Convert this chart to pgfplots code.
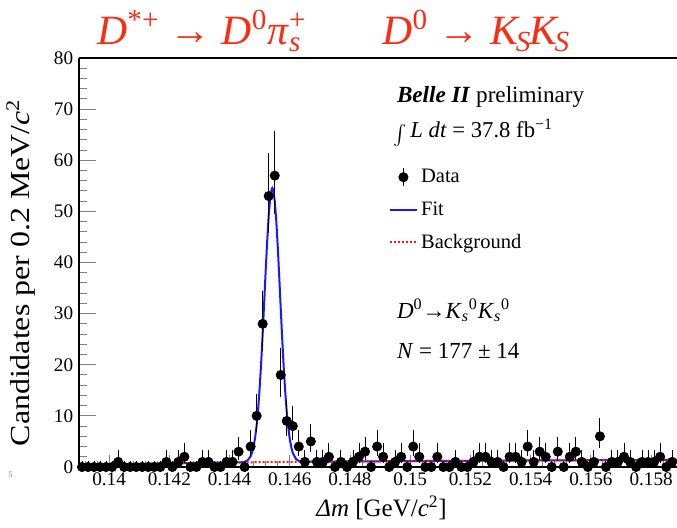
\documentclass[border=0pt]{standalone}
\usepackage{pgfplots}
\pgfplotsset{compat=1.18}
\usepackage{pgfplotstable}
\usepackage{fontspec}
\setmainfont{Liberation Serif}

\definecolor{titlered}{RGB}{250,45,20}
\definecolor{fitblue}{RGB}{25,25,255}
\definecolor{bkgred}{RGB}{255,20,20}

% Delta m distribution: bin centre, candidates, Poisson errors (+/-)
\pgfplotstableread{
x      y   ep    em
0.1391 0   1.15  0
0.1393 0   1.15  0
0.1395 0   1.15  0
0.1397 0   1.15  0
0.1399 0   1.15  0
0.1401 0   1.15  0
0.1403 1   2.30  0.83
0.1405 0   1.15  0
0.1407 0   1.15  0
0.1409 0   1.15  0
0.1411 0   1.15  0
0.1413 0   1.15  0
0.1415 0   1.15  0
0.1417 0   1.15  0
0.1419 1   2.30  0.83
0.1421 0   1.15  0
0.1423 1   2.30  0.83
0.1425 2   2.64  1.29
0.1427 0   1.15  0
0.1429 0   1.15  0
0.1431 1   2.30  0.83
0.1433 1   2.30  0.83
0.1435 0   1.15  0
0.1437 0   1.15  0
0.1439 1   2.30  0.83
0.1441 1   2.30  0.83
0.1443 3   2.92  1.63
0.1445 0   1.15  0
0.1447 4   3.16  1.91
0.1449 10  4.26  3.11
0.1451 28  6.35  5.27
0.1453 53  8.36  7.26
0.1455 57  8.63  7.54
0.1457 18  5.30  4.22
0.1459 9   4.11  2.96
0.1461 8   3.94  2.77
0.1463 4   3.16  1.91
0.1465 1   2.30  0.83
0.1467 5   3.38  2.16
0.1469 1   2.30  0.83
0.1471 1   2.30  0.83
0.1473 2   2.64  1.29
0.1475 0   1.15  0
0.1477 1   2.30  0.83
0.1479 0   1.15  0
0.1481 1   2.30  0.83
0.1483 2   2.64  1.29
0.1485 3   2.92  1.63
0.1487 0   1.15  0
0.1489 4   3.16  1.91
0.1491 2   2.64  1.29
0.1493 0   1.15  0
0.1495 1   2.30  0.83
0.1497 2   2.64  1.29
0.1499 0   1.15  0
0.1501 4   3.16  1.91
0.1503 2   2.64  1.29
0.1505 0   1.15  0
0.1507 0   1.15  0
0.1509 2   2.64  1.29
0.1511 0   1.15  0
0.1513 0   1.15  0
0.1515 1   2.30  0.83
0.1517 0   1.15  0
0.1519 0   1.15  0
0.1521 1   2.30  0.83
0.1523 2   2.64  1.29
0.1525 2   2.64  1.29
0.1527 1   2.30  0.83
0.1529 1   2.30  0.83
0.1531 0   1.15  0
0.1533 2   2.64  1.29
0.1535 2   2.64  1.29
0.1537 1   2.30  0.83
0.1539 4   3.16  1.91
0.1541 1   2.30  0.83
0.1543 3   2.92  1.63
0.1545 2   2.64  1.29
0.1547 0   1.15  0
0.1549 3   2.92  1.63
0.1551 0   1.15  0
0.1553 2   2.64  1.29
0.1555 3   2.92  1.63
0.1557 1   2.30  0.83
0.1559 0   1.15  0
0.1561 1   2.30  0.83
0.1563 6   3.58  2.38
0.1565 0   1.15  0
0.1567 1   2.30  0.83
0.1569 1   2.30  0.83
0.1571 2   2.64  1.29
0.1573 1   2.30  0.83
0.1575 0   1.15  0
0.1577 1   2.30  0.83
0.1579 1   2.30  0.83
0.1581 1   2.30  0.83
0.1583 2   2.64  1.29
0.1585 0   1.15  0
0.1587 1   2.30  0.83
0.1589 1   2.30  0.83
}\dmdata

% Total fit (signal + background)
\pgfplotstableread{
x        y
0.13900  0
0.13957  0
0.13960  0.15
0.13980  0.32
0.14000  0.40
0.14050  0.52
0.14100  0.60
0.14200  0.72
0.14300  0.81
0.14400  0.88
0.14430  0.90
0.14440  0.93
0.14450  1.01
0.14460  1.29
0.14470  2.08
0.14475  2.87
0.14480  4.05
0.14485  5.78
0.14490  8.18
0.14495  11.40
0.14500  15.48
0.14505  20.41
0.14510  26.07
0.14515  32.21
0.14520  38.42
0.14525  44.23
0.14530  49.15
0.14535  52.65
0.14540  54.40
0.14542  54.56
0.14545  54.21
0.14550  52.09
0.14555  48.27
0.14560  43.15
0.14565  37.22
0.14570  31.00
0.14575  24.93
0.14580  19.41
0.14585  14.64
0.14590  10.74
0.14595  7.70
0.14600  5.45
0.14605  3.85
0.14610  2.75
0.14620  1.61
0.14630  1.18
0.14640  1.06
0.14660  1.03
0.14800  1.09
0.15000  1.16
0.15200  1.22
0.15400  1.28
0.15600  1.33
0.15800  1.38
0.15886  1.40
}\fitcurve

% Background component
\pgfplotstableread{
x        y
0.13900  0
0.13957  0
0.13960  0.15
0.13980  0.32
0.14000  0.40
0.14050  0.52
0.14100  0.60
0.14200  0.72
0.14300  0.81
0.14400  0.88
0.14500  0.94
0.14600  1.00
0.14800  1.09
0.15000  1.16
0.15200  1.22
0.15400  1.28
0.15600  1.33
0.15800  1.38
0.15886  1.40
}\bkgcurve

\begin{document}
\begin{tikzpicture}
\begin{axis}[
  scale only axis,
  width=358.8pt, height=245.4pt,
  xmin=0.139, xmax=0.15886,
  ymin=0, ymax=80,
  axis x line*=box, axis y line*=left,
  axis line style={line width=0.9pt},
  xtick pos=bottom,
  tick align=inside,
  xtick={0.14,0.142,0.144,0.146,0.148,0.15,0.152,0.154,0.156,0.158},
  xticklabels={0.14,0.142,0.144,0.146,0.148,0.15,0.152,0.154,0.156,0.158},
  minor xtick={0.1392,0.1396,...,0.1588},
  ytick={0,10,...,80},
  minor y tick num=4,
  xtick style={/pgfplots/major tick length=7pt, /pgfplots/minor tick length=3.5pt, line width=0.6pt},
  ytick style={/pgfplots/major tick length=10pt, /pgfplots/minor tick length=5pt, line width=0.6pt},
  scaled x ticks=false,
  /pgf/number format/assume math mode=true,
  tick label style={font=\fontsize{11.5}{13}\selectfont},
  xlabel={\textit{Δm} [GeV/\textit{c}\textsuperscript{2}]},
  ylabel={\scalebox{1.16}[1]{Candidates per 0.2 MeV/\textit{c}\textsuperscript{2}}},
  xlabel style={font=\fontsize{15}{17}\selectfont, at={(axis description cs:0.506,-0.10)}, anchor=center},
  ylabel style={font=\fontsize{16.5}{19}\selectfont, at={(axis description cs:-0.097,0.475)}, anchor=center},
  legend cell align=left,
  legend style={draw=none, fill=none, at={(axis description cs:0.518,0.737)},
    anchor=north west, font=\fontsize{12.3}{14}\selectfont, row sep=5.8pt,
    inner sep=0pt},
]
  \addlegendimage{legend image code/.code={
      \draw[black, line width=0.6pt] (8pt,-5.5pt) -- (8pt,5.5pt);
      \fill[black] (8pt,0pt) circle (2.8pt);}}
  \addlegendentry{Data}
  \addlegendimage{legend image code/.code={
      \draw[fitblue, line width=1.2pt] (0pt,0pt) -- (16pt,0pt);}}
  \addlegendentry{Fit}
  \addlegendimage{legend image code/.code={
      \draw[bkgred, line width=1.2pt, dash pattern=on 1.2pt off 1.2pt] (0pt,0pt) -- (16pt,0pt);}}
  \addlegendentry{Background}

  \addplot[fitblue, line width=1.2pt, forget plot] table[x=x, y=y] {\fitcurve};
  \addplot[bkgred, line width=1.2pt, dash pattern=on 1.2pt off 1.2pt, forget plot] table[x=x, y=y] {\bkgcurve};
  \addplot[only marks, mark=*, mark size=2.8pt, black, forget plot,
    error bars/.cd, y dir=both, y explicit, error mark=none,
    error bar style={line width=0.6pt, black}]
    table[x=x, y=y, y error plus=ep, y error minus=em] {\dmdata};
\end{axis}

% decay chain
\node[anchor=base west, inner sep=0pt, text=titlered, font=\fontsize{25}{30}\selectfont]
  at (10.8pt,253.2pt)
  {\textit{D}\textsuperscript{*+} → \textit{D}\textsuperscript{0}\textit{π}\rlap{\textsuperscript{+}}\textsubscript{\textit{s}}\hspace{1.95em}\textit{D}\textsuperscript{0} → \textit{K}\kern-0.1em\textsubscript{\textit{S}}\kern-0.05em\textit{K}\kern-0.1em\textsubscript{\textit{S}}};

% experiment and luminosity
\node[anchor=base west, inner sep=0pt, font=\fontsize{13.9}{16}\selectfont]
  at (190.6pt,218.4pt) {\textbf{\textit{Belle II}} preliminary};
\node[anchor=base west, inner sep=0pt, font=\fontsize{13.6}{16}\selectfont]
  at (188.4pt,197.4pt) {\raisebox{-3pt}{\scalebox{1.2}{$\int$}}\,\textit{L dt} = 37.8 fb\textsuperscript{−1}};

% signal yield
\node[anchor=base west, inner sep=0pt, font=\fontsize{13.8}{16}\selectfont]
  at (190.6pt,89.2pt) {\textit{D}\textsuperscript{0}→\textit{K}\textsubscript{\textit{s}}\textsuperscript{0}\textit{K}\textsubscript{\textit{s}}\textsuperscript{0}};
\node[anchor=base west, inner sep=0pt, font=\fontsize{13.8}{16}\selectfont]
  at (190.6pt,65.2pt) {\textit{N} = 177 ± 14};

\node[anchor=base west, inner sep=0pt, text=gray, font=\fontsize{5}{6}\selectfont]
  at (-42.6pt,-6.5pt) {5};

\pgfresetboundingbox
\path[use as bounding box] (-47.4pt,-36pt) rectangle (358.8pt,280.2pt);
\end{tikzpicture}
\end{document}
